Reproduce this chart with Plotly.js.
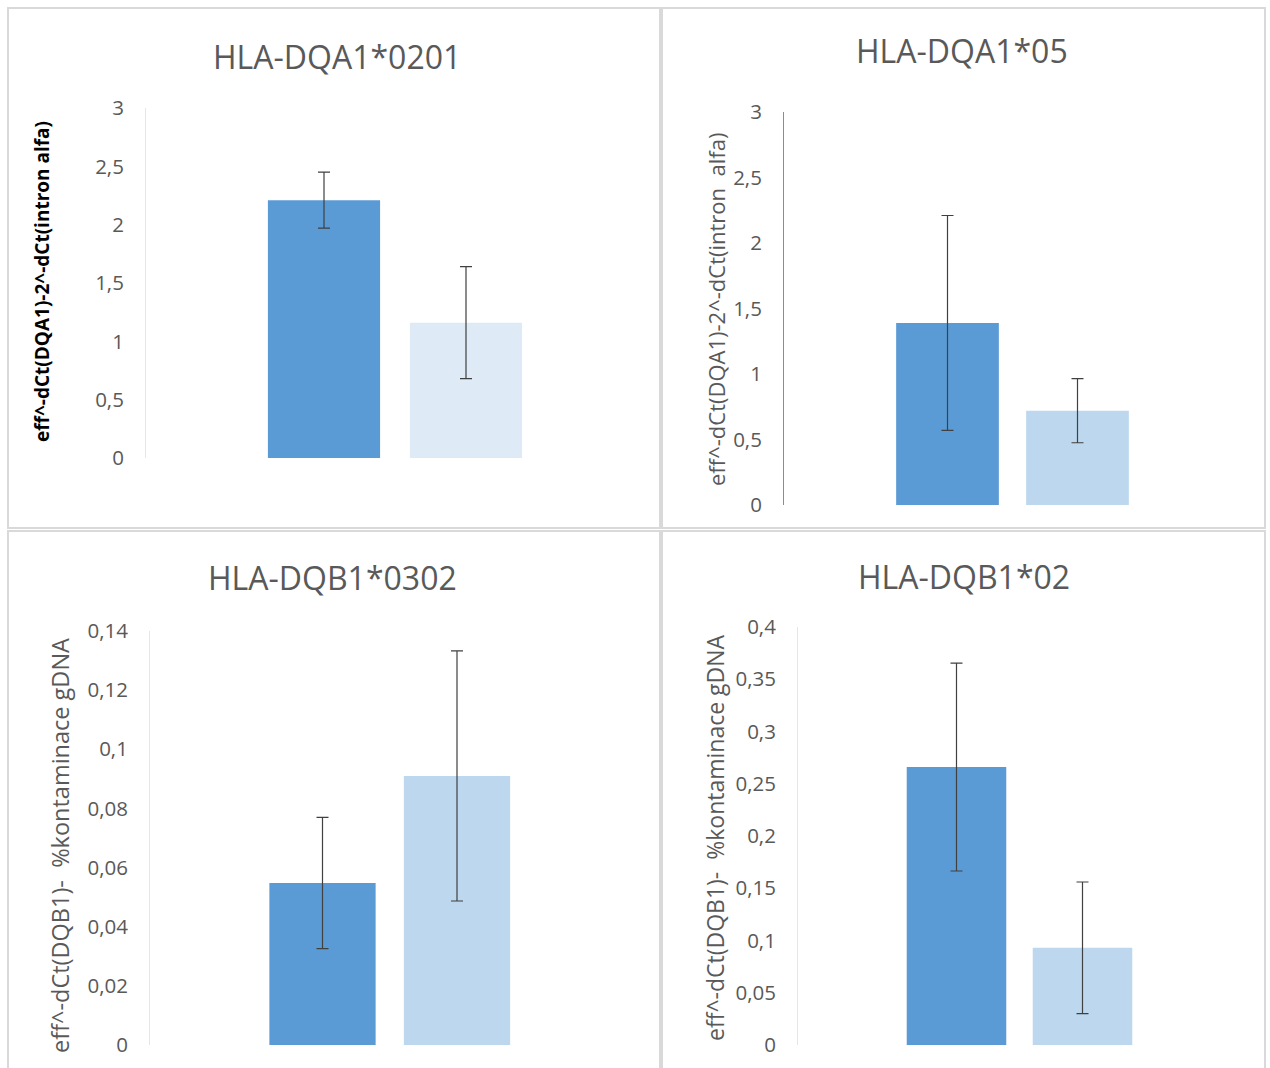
<!DOCTYPE html>
<html>
<head>
<meta charset="utf-8">
<script src="https://cdn.plot.ly/plotly-3.0.1.min.js"></script>
<style>html,body{margin:0;padding:0;background:#fff;}#chart{width:1270px;height:1068px;}</style>
</head>
<body>
<div id="chart"></div>
<script>
// ---- data ----
const groups = ['1', '2'];
const panelTitles = ['HLA-DQA1*0201', 'HLA-DQA1*05', 'HLA-DQB1*0302', 'HLA-DQB1*02'];
const yTitles = [
  'eff^-dCt(DQA1)-2^-dCt(intron alfa)',
  'eff^-dCt(DQA1)-2^-dCt(intron  alfa)',
  'eff^-dCt(DQB1)-  %kontaminace gDNA',
  'eff^-dCt(DQB1)-  %kontaminace gDNA'
];
const valuesDQA1_0201 = [2.21, 1.16];
const errorsDQA1_0201 = [0.24, 0.48];
const valuesDQA1_05 = [1.39, 0.72];
const errorsDQA1_05 = [0.82, 0.245];
const valuesDQB1_0302 = [0.0548, 0.091];
const errorsDQB1_0302 = [0.0222, 0.0423];
const valuesDQB1_02 = [0.266, 0.093];
const errorsDQB1_02 = [0.0995, 0.063];
const tickVals1 = [0, 0.5, 1, 1.5, 2, 2.5, 3];
const tickText1 = ['0', '0,5', '1', '1,5', '2', '2,5', '3'];
const tickVals3 = [0, 0.02, 0.04, 0.06, 0.08, 0.1, 0.12, 0.14];
const tickText3 = ['0', '0,02', '0,04', '0,06', '0,08', '0,1', '0,12', '0,14'];
const tickVals4 = [0, 0.05, 0.1, 0.15, 0.2, 0.25, 0.3, 0.35, 0.4];
const tickText4 = ['0', '0,05', '0,1', '0,15', '0,2', '0,25', '0,3', '0,35', '0,4'];

// ---- layout helpers ----
const W = 1270, H = 1068;
const fx = p => p / W;
const fy = p => 1 - p / H;
const DARK = '#5b9bd5', LIGHT = '#bdd7ee', VLIGHT = '#deebf7';
const TXT = '#595959';
const FONT = 'Open Sans, Noto Sans, sans-serif';

const panels = [
  {vals: valuesDQA1_0201, errs: errorsDQA1_0201, colors: [DARK, VLIGHT], ax: 146, right: 650, c0: 324, step: 142, top: 108, bot: 458, yr: [0, 3], tv: tickVals1, tt: tickText1, line: '#dde8f4',
   title: {x: 337, y: 57}, yt: {x: 42, y: 282, bold: true, size: 19}},
  {vals: valuesDQA1_05, errs: errorsDQA1_05, colors: [DARK, LIGHT], ax: 784, right: 1255, c0: 947.5, step: 130, top: 112, bot: 505, yr: [0, 3], tv: tickVals1, tt: tickText1, line: '#8c8c8c',
   title: {x: 962, y: 51}, yt: {x: 716, y: 310, bold: false, size: 22}},
  {vals: valuesDQB1_0302, errs: errorsDQB1_0302, colors: [DARK, LIGHT], ax: 150, right: 650, c0: 322.5, step: 134.5, top: 631, bot: 1045, yr: [0, 0.14], tv: tickVals3, tt: tickText3, line: '#dde8f4',
   title: {x: 332, y: 577}, yt: {x: 60, y: 846, bold: false, size: 23.5}},
  {vals: valuesDQB1_02, errs: errorsDQB1_02, colors: [DARK, LIGHT], ax: 798, right: 1255, c0: 956.5, step: 126, top: 627, bot: 1045, yr: [0, 0.4], tv: tickVals4, tt: tickText4, line: '#dde8f4',
   title: {x: 964, y: 576}, yt: {x: 715, y: 838, bold: false, size: 23}}
];

const data = [];
const layout = {
  width: W, height: H,
  margin: {l: 0, r: 0, t: 0, b: 0},
  paper_bgcolor: '#ffffff', plot_bgcolor: 'rgba(0,0,0,0)',
  showlegend: false,
  font: {family: FONT, color: TXT},
  annotations: [],
  shapes: []
};

panels.forEach((p, i) => {
  const n = i + 1;
  const xa = 'x' + (n === 1 ? '' : n), ya = 'y' + (n === 1 ? '' : n);
  data.push({
    type: 'bar', x: groups, y: p.vals, xaxis: xa, yaxis: ya,
    width: 0.79,
    marker: {color: p.colors, line: {width: 0}},
    error_y: {type: 'data', array: p.errs, visible: true, color: '#404040', thickness: 1.2, width: 6},
    hoverinfo: 'y'
  });
  const left = (p.c0 - p.ax) / p.step;
  const rightU = (p.right - p.c0) / p.step;
  layout['xaxis' + (n === 1 ? '' : n)] = {
    domain: [fx(p.ax), fx(p.right)], anchor: ya,
    type: 'category', range: [-left, rightU],
    visible: false, fixedrange: true
  };
  layout['yaxis' + (n === 1 ? '' : n)] = {
    domain: [fy(p.bot), fy(p.top)], anchor: xa,
    range: p.yr, tickvals: p.tv, ticktext: p.tt,
    showgrid: false, zeroline: false,
    showline: true, linecolor: p.line, linewidth: 1,
    ticks: '', ticklabelstandoff: 17,
    tickfont: {family: FONT, size: 20.5, color: TXT},
    fixedrange: true
  };
  layout.annotations.push({
    xref: 'paper', yref: 'paper', x: fx(p.title.x), y: fy(p.title.y),
    xanchor: 'center', yanchor: 'middle', showarrow: false,
    text: panelTitles[i], font: {family: FONT, size: 32, color: TXT}
  });
  layout.annotations.push({
    xref: 'paper', yref: 'paper', x: fx(p.yt.x), y: fy(p.yt.y),
    xanchor: 'center', yanchor: 'middle', showarrow: false, textangle: -90,
    text: p.yt.bold ? '<b>' + yTitles[i] + '</b>' : yTitles[i],
    font: {family: FONT, size: p.yt.size, color: p.yt.bold ? '#000000' : TXT}
  });
});

// panel borders
const borders = [[8, 8, 660, 528], [662, 8, 1265, 528], [8, 531, 660, 1075], [662, 531, 1265, 1075]];
borders.forEach(b => layout.shapes.push({
  type: 'rect', xref: 'paper', yref: 'paper',
  x0: fx(b[0]), x1: fx(b[2]), y0: fy(b[3]), y1: fy(b[1]),
  line: {color: '#d9d9d9', width: 2}, fillcolor: 'rgba(0,0,0,0)', layer: 'below'
}));

Plotly.newPlot('chart', data, layout, {displayModeBar: false, staticPlot: true});
</script>
</body>
</html>
